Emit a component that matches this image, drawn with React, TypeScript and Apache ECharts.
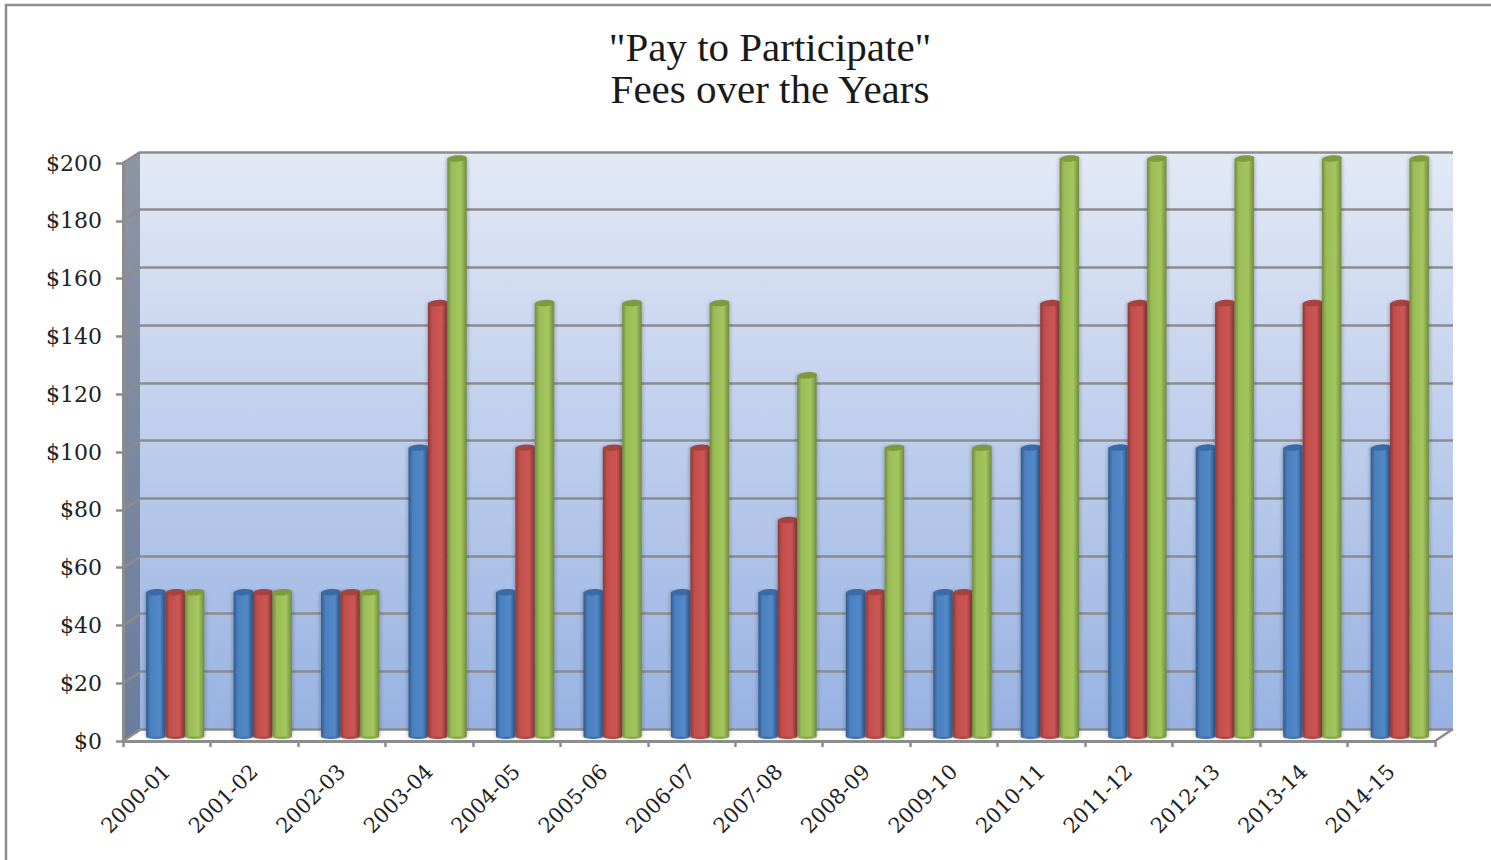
import React, { useEffect, useRef } from "react";
import * as echarts from "echarts";

const categories = ["2000-01","2001-02","2002-03","2003-04","2004-05","2005-06","2006-07","2007-08","2008-09","2009-10","2010-11","2011-12","2012-13","2013-14","2014-15"];
const blueFees = [50,50,50,100,50,50,50,50,50,50,100,100,100,100,100];
const redFees = [50,50,50,150,100,100,100,75,50,50,150,150,150,150,150];
const greenFees = [50,50,50,200,150,150,150,125,100,100,200,200,200,200,200];
const yTicks = [0,20,40,60,80,100,120,140,160,180,200];

const GRAY = "#8c8c8c";
const SERIF = "'Liberation Serif', serif";
const LABEL_FONT = "'DejaVu Serif', serif";

const hGrad = (a: string, b: string, c: string) => ({
  type: "linear", x: 0, y: 0, x2: 1, y2: 0,
  colorStops: [
    { offset: 0, color: a },
    { offset: 0.22, color: b },
    { offset: 0.7, color: c },
    { offset: 1, color: a },
  ],
});

const barRender = (slot: number, edge: string, mid: string, light: string, cap: string) => (_: any, api: any) => {
  const w = 19.4;
  const top = api.coord([api.value(0), api.value(1)]);
  const base = api.coord([api.value(0), 0]);
  const cx = top[0] + slot * w;
  const fill = hGrad(edge, mid, light);
  const rx = w / 2;
  const ry = 3.2;
  return {
    type: "group",
    children: [
      { type: "ellipse", shape: { cx, cy: base[1], rx, ry: 2.5 }, style: { fill: mid } },
      {
        type: "rect",
        shape: { x: cx - rx, y: top[1], width: w, height: base[1] - top[1] },
        style: { fill, shadowBlur: 4, shadowColor: "rgba(40,40,40,0.45)" },
      },
      { type: "ellipse", rotation: 0.07, originX: cx, originY: top[1], shape: { cx, cy: top[1], rx, ry }, style: { fill: cap } },
    ],
  };
};

const diagRender = (_: any, api: any) => {
  const band = api.size([1, 0])[0];
  const p = api.coord([0, api.value(1)]);
  const x = p[0] - band / 2;
  return {
    type: "line",
    shape: { x1: x, y1: p[1], x2: x + 17, y2: p[1] - 11 },
    style: { stroke: GRAY, lineWidth: 2.5 },
  };
};

export default function App() {
  const ref = useRef<HTMLDivElement>(null);
  useEffect(() => {
    const chart = echarts.init(ref.current!, undefined, { renderer: "svg" });
    const catAxisBase = { type: "category", data: categories };
    const valAxisBase = { type: "value", min: 0, max: 200, interval: 20 };
    chart.setOption({
      animation: false,
      backgroundColor: "#ffffff",
      title: {
        text: '"Pay to Participate"\nFees over the Years',
        left: 765,
        top: 21,
        textAlign: "center",
        textStyle: { fontFamily: SERIF, fontWeight: "normal", fontSize: 41, lineHeight: 42, color: "#1a1a1a" },
      },
      graphic: [
        { type: "polyline", z: 1, shape: { points: [[6, 860], [6, 5], [1491, 5]] }, style: { stroke: GRAY, lineWidth: 2.5, fill: "none" } },
        {
          type: "polygon", z: 0,
          shape: { points: [[123, 163], [140, 152], [140, 729], [123, 741]] },
          style: { fill: { type: "linear", x: 0, y: 0, x2: 0, y2: 1, colorStops: [{ offset: 0, color: "#8e95a3" }, { offset: 1, color: "#6a7c9e" }] } },
        },
        { type: "line", z: 1, shape: { x1: 1435, y1: 741, x2: 1453, y2: 729 }, style: { stroke: GRAY, lineWidth: 2.5 } },
      ],
      grid: [
        {
          left: 140, top: 152, width: 1313, height: 577, show: true, borderWidth: 0,
          backgroundColor: { type: "linear", x: 0, y: 0, x2: 0, y2: 1, colorStops: [{ offset: 0, color: "#e3e9f6" }, { offset: 1, color: "#98b2e2" }] },
        },
        { left: 123, top: 163, width: 1312, height: 578 },
        { left: 131.5, top: 158.5, width: 1312, height: 578 },
      ],
      xAxis: [
        { ...catAxisBase, gridIndex: 0, show: false },
        {
          ...catAxisBase, gridIndex: 1,
          axisLine: { show: true, lineStyle: { color: GRAY, width: 3 } },
          axisTick: { show: true, alignWithLabel: false, length: 6, lineStyle: { color: GRAY, width: 2.5 } },
          axisLabel: { interval: 0, rotate: 45, margin: 27, fontFamily: LABEL_FONT, fontSize: 21, color: "#222222" },
        },
        { ...catAxisBase, gridIndex: 2, show: false },
      ],
      yAxis: [
        {
          ...valAxisBase, gridIndex: 0,
          axisLine: { show: false }, axisTick: { show: false }, axisLabel: { show: false },
          splitLine: { show: true, lineStyle: { color: GRAY, width: 2.5 } },
        },
        {
          ...valAxisBase, gridIndex: 1,
          axisLine: { show: true, lineStyle: { color: GRAY, width: 3 } },
          axisTick: { show: true, length: 7, lineStyle: { color: GRAY, width: 2.5 } },
          axisLabel: { margin: 21, fontFamily: LABEL_FONT, fontSize: 22, color: "#222222", formatter: "${value}" },
          splitLine: { show: false },
        },
        { ...valAxisBase, gridIndex: 2, show: false, splitLine: { show: false } },
      ],
      series: [
        {
          type: "custom", xAxisIndex: 1, yAxisIndex: 1, z: 1, silent: true,
          renderItem: diagRender, encode: { x: 0, y: 1 },
          data: yTicks.map((v) => [0, v]),
        },
        {
          type: "custom", name: "Blue", xAxisIndex: 2, yAxisIndex: 2, z: 3,
          renderItem: barRender(-1, "#2f5b8e", "#4c80bf", "#5389c9", "#3a6ba6"), encode: { x: 0, y: 1 },
          data: blueFees.map((v, i) => [i, v]),
        },
        {
          type: "custom", name: "Red", xAxisIndex: 2, yAxisIndex: 2, z: 4,
          renderItem: barRender(0, "#8c3937", "#c24f4d", "#cc5654", "#a84240"), encode: { x: 0, y: 1 },
          data: redFees.map((v, i) => [i, v]),
        },
        {
          type: "custom", name: "Green", xAxisIndex: 2, yAxisIndex: 2, z: 5,
          renderItem: barRender(1, "#718a3d", "#9bbd57", "#a3c65e", "#7d9a3d"), encode: { x: 0, y: 1 },
          data: greenFees.map((v, i) => [i, v]),
        },
      ],
    });
    return () => chart.dispose();
  }, []);
  return <div ref={ref} style={{ position: "absolute", left: 0, top: 0, width: 1491, height: 860 }} />;
}
